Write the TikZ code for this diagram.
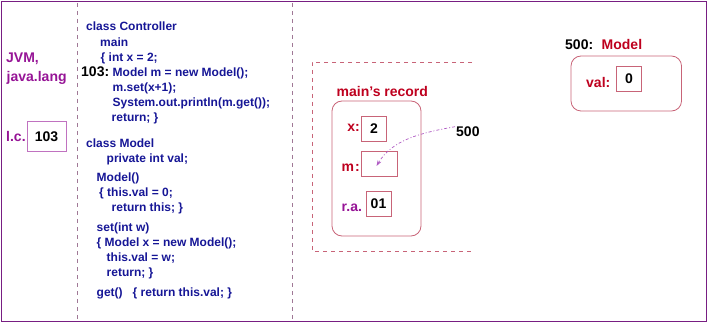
\documentclass[tikz,border=0pt]{standalone}
\usepackage{fontspec}
\setmainfont{Liberation Sans}
\usepackage{tikz}
\usetikzlibrary{arrows.meta,positioning}

\definecolor{codeblue}{RGB}{22,22,150}
\definecolor{jvmpurple}{RGB}{150,20,150}
\definecolor{fieldred}{RGB}{190,0,30}
\definecolor{boxpink}{RGB}{200,100,120}
\definecolor{framepurple}{RGB}{120,30,130}
\definecolor{sepgray}{RGB}{160,120,150}
\definecolor{refpurple}{RGB}{175,90,195}

\begin{document}
\begin{tikzpicture}[
    x=1pt, y=-1pt,
    font=\bfseries\fontsize{14}{16}\selectfont,
    code/.style={anchor=base west,inner sep=0pt,text=codeblue,font=\bfseries\fontsize{12}{14}\selectfont},
    lbl/.style={anchor=base west,inner sep=0pt},
    cell/.style={draw=boxpink,line width=0.8pt,inner sep=0pt,minimum width=25pt,minimum height=25pt},
    record/.style={draw=boxpink,line width=0.8pt,rounded corners=10pt},
    sep/.style={draw=sepgray,line width=0.7pt,dash pattern=on 4pt off 4pt},
    >={Stealth[length=6pt,width=4pt]}]
  \useasboundingbox (0,0) rectangle (708,323);
  \draw[framepurple,line width=1.4pt] (1.5,1.5) rectangle (706.5,321.5);
  \draw[sep] (77,3) -- (77,320);
  \draw[sep] (292,3) -- (292,320);

  % JVM area and instruction counter
  \node[lbl,text=jvmpurple] (jvm) at (6,63) {JVM,};
  \node[lbl,text=jvmpurple] (jlang) at (6.5,81.5) {java.lang};
  \node[lbl,text=jvmpurple] (lc) at (6,141.5) {l.c.};
  \node[cell,minimum width=39pt,minimum height=30pt,draw=jvmpurple!60] (lcval) at (46.5,136.5) {103};

  % program code
  \node[code] (c1) at (86,31) {class Controller};
  \node[code] (c2) at (100,46.5) {main};
  \node[code] (c3) at (100.5,61.5) {\{ int x = 2;};
  \node[lbl] (c4n) at (81,76.5) {103:};
  \node[code] (c4) at (112.5,76.5) {Model m = new Model();};
  \node[code] (c5) at (112.5,91.5) {m.set(x+1);};
  \node[code] (c6) at (112.5,106.5) {System.out.println(m.get());};
  \node[code] (c7) at (111.5,121.5) {return; \}};
  \node[code] (m1) at (86,147) {class Model};
  \node[code] (m2) at (106.5,162) {private int val;};
  \node[code] (m3) at (96.5,181.5) {Model()};
  \node[code] (m4) at (99,196.5) {\{ this.val = 0;};
  \node[code] (m5) at (111.5,211.5) {return this; \}};
  \node[code] (m6) at (96.5,231.5) {set(int w)};
  \node[code] (m7) at (96.5,246.5) {\{ Model x = new Model();};
  \node[code] (m8) at (106.5,261.5) {this.val = w;};
  \node[code] (m9) at (106.5,276.5) {return; \}};
  \node[code] (m10) at (96.5,296.5) {get()~~ \{ return this.val; \}};

  % call stack with main's record
  \draw[sep,draw=boxpink] (472,62) -- (312,62) -- (312,251) -- (472,251);
  \node[lbl,text=fieldred] (mainrec) at (336.5,96.5) {main's record};
  \draw[record] (332,101) rectangle (421,236);
  \node[cell] (xval) at (374,128.5) {2};
  \node[lbl,text=fieldred,anchor=base east] (xlab) at (360,131.5) {x:};
  \node[cell,minimum width=36pt] (mval) at (379,163.5) {};
  \node[lbl,text=fieldred] (mlab) at (341.5,171) {m\kern1pt:};
  \node[cell] (raval) at (378.5,203.5) {01};
  \node[lbl,text=jvmpurple] (ralab) at (341.5,211.5) {r.a.};

  % heap object
  \node[lbl] (addr) at (456,136.5) {500};
  \coordinate (mref) at (376.5,166);
  \draw[->,refpurple,line width=0.7pt,dash pattern=on 3pt off 2pt on 1pt off 2pt]
    (addr.west) ++(-1,-5) .. controls (420,133) and (392,140) .. (mref);
  \node[lbl] (objaddr) at (565,50) {500:};
  \node[lbl,text=fieldred] (objcls) at (601.5,50) {Model};
  \draw[record] (571,56) rectangle (681.5,111);
  \node[lbl,text=fieldred] (vallab) at (586,87.5) {val:};
  \node[cell] (valval) at (629,79) {0};
\end{tikzpicture}
\end{document}
